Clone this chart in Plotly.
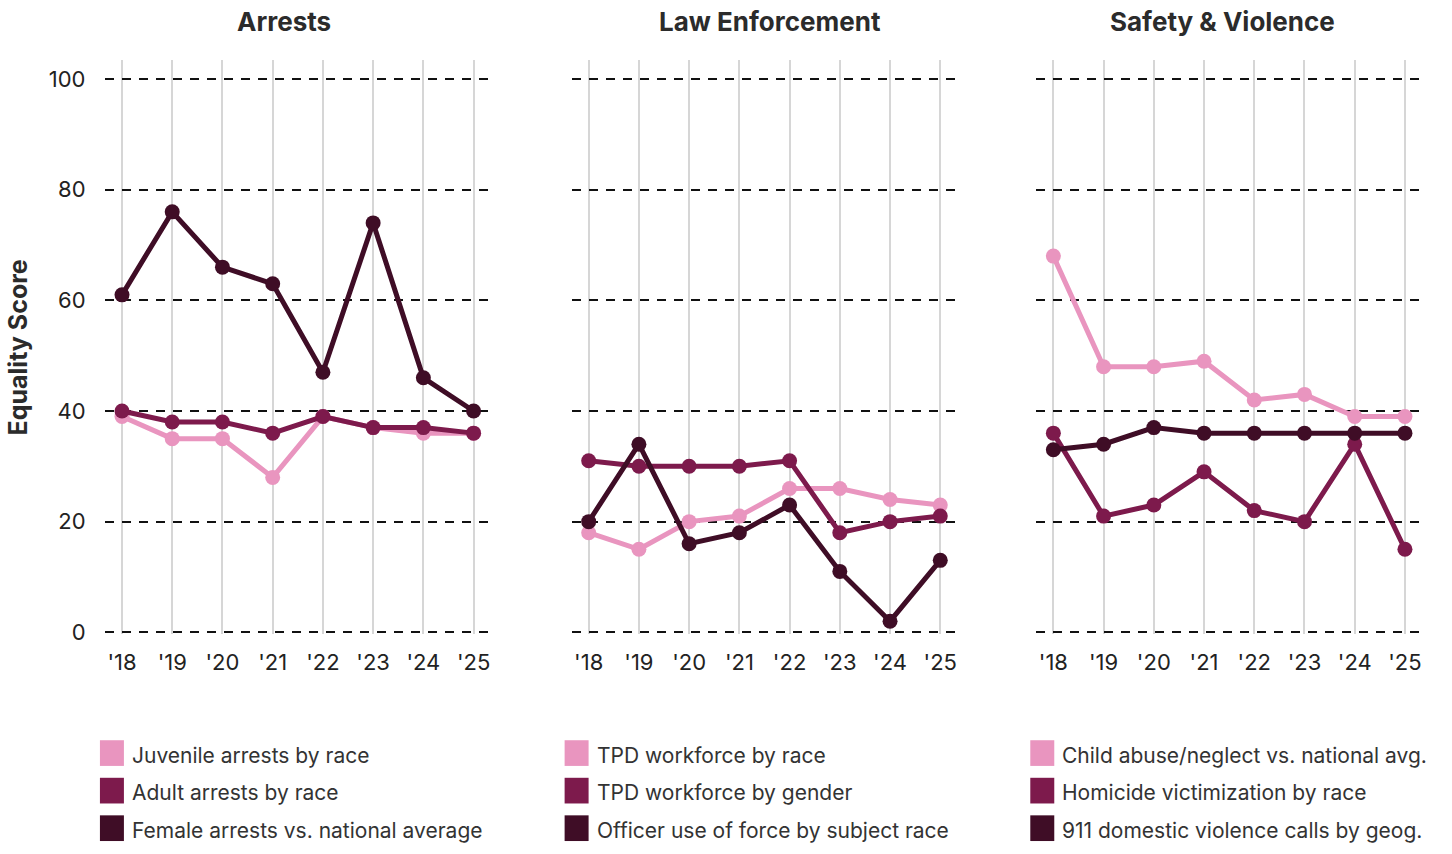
import plotly.graph_objects as go

# ---- data -------------------------------------------------------------
years = ["'18", "'19", "'20", "'21", "'22", "'23", "'24", "'25"]
panel_titles = ["Arrests", "Law Enforcement", "Safety & Violence"]

# Arrests
juvenile_arrests = [39, 35, 35, 28, 39, 37, 36, 36]
adult_arrests = [40, 38, 38, 36, 39, 37, 37, 36]
female_arrests = [61, 76, 66, 63, 47, 74, 46, 40]

# Law Enforcement
tpd_race = [18, 15, 20, 21, 26, 26, 24, 23]
tpd_gender = [31, 30, 30, 30, 31, 18, 20, 21]
use_of_force = [20, 34, 16, 18, 23, 11, 2, 13]

# Safety & Violence
child_abuse = [68, 48, 48, 49, 42, 43, 39, 39]
homicide = [36, 21, 23, 29, 22, 20, 34, 15]
dv_calls = [33, 34, 37, 36, 36, 36, 36, 36]

series_names = [
    ["Juvenile arrests by race", "Adult arrests by race", "Female arrests vs. national average"],
    ["TPD workforce by race", "TPD workforce by gender", "Officer use of force by subject race"],
    ["Child abuse/neglect vs. national avg.", "Homicide victimization by race", "911 domestic violence calls by geog."],
]
series_values = [
    [juvenile_arrests, adult_arrests, female_arrests],
    [tpd_race, tpd_gender, use_of_force],
    [child_abuse, homicide, dv_calls],
]
y_ticks = [0, 20, 40, 60, 80, 100]

# ---- styling ----------------------------------------------------------
colors = ["#E995BF", "#7D1A4C", "#3F0D26"]
FONT = "Inter, Lato, sans-serif"
W, H = 1452, 854
x_domains = [(105 / W, 490 / W), (572 / W, 957 / W), (1037 / W, 1422 / W)]
y_domain = (1 - 642 / H, 1 - 61 / H)
title_x_px = [284, 771, 1223]
legend_x_px = [100, 565, 1031]
legend_y_px = [762, 800, 838]

fig = go.Figure()

for p in range(3):
    xa = "x" if p == 0 else f"x{p + 1}"
    ya = "y" if p == 0 else f"y{p + 1}"
    for s in range(3):
        fig.add_trace(go.Scatter(
            x=years, y=series_values[p][s], name=series_names[p][s],
            mode="lines+markers", xaxis=xa, yaxis=ya,
            line=dict(color=colors[s], width=5),
            marker=dict(color=colors[s], size=15),
            showlegend=False,
            hovertemplate="%{x}: %{y}<extra>" + series_names[p][s] + "</extra>",
        ))

layout = dict(
    width=W, height=H,
    margin=dict(l=0, r=0, t=0, b=0),
    paper_bgcolor="white", plot_bgcolor="white",
    font=dict(family=FONT, color="#222222", size=20),
    showlegend=False,
)

for p in range(3):
    xkey = "xaxis" if p == 0 else f"xaxis{p + 1}"
    ykey = "yaxis" if p == 0 else f"yaxis{p + 1}"
    layout[xkey] = dict(
        domain=list(x_domains[p]), anchor="y" if p == 0 else f"y{p + 1}",
        type="category", categoryorder="array", categoryarray=years,
        range=[-0.34, 7.32],
        showgrid=True, gridcolor="#d6d6d6", gridwidth=1.5,
        zeroline=False, showline=False,
        ticks="outside", ticklen=8, tickcolor="rgba(0,0,0,0)",
        tickfont=dict(family=FONT, size=22, color="#222222"),
    )
    layout[ykey] = dict(
        domain=list(y_domain), anchor="x" if p == 0 else f"x{p + 1}",
        range=[-0.4, 103.4], tickvals=y_ticks,
        showticklabels=(p == 0),
        showgrid=True, gridcolor="#111111", gridwidth=1.5, griddash="9px,8px",
        zeroline=False, showline=False,
        ticks="outside" if p == 0 else "", ticklen=14, tickcolor="rgba(0,0,0,0)",
        tickfont=dict(family=FONT, size=22, color="#222222"),
    )
    if p > 0:
        layout[ykey]["matches"] = "y"

layout["yaxis"]["title"] = dict(
    text="Equality Score", standoff=14,
    font=dict(family=FONT, size=25, color="#2b2b2b", weight="bold"),
)

annotations = []
shapes = []
for p in range(3):
    annotations.append(dict(
        text=f"<b>{panel_titles[p]}</b>", xref="paper", yref="paper",
        x=title_x_px[p] / W, y=1 - 22 / H, xanchor="center", yanchor="middle",
        showarrow=False, font=dict(family=FONT, size=26, color="#2b2b2b"),
    ))
    for s in range(3):
        x0 = legend_x_px[p]
        yc = legend_y_px[s]
        shapes.append(dict(
            type="rect", xref="paper", yref="paper",
            x0=x0 / W, x1=(x0 + 24) / W,
            y0=1 - (yc + 13) / H, y1=1 - (yc - 13) / H,
            fillcolor=colors[s], line=dict(width=0),
        ))
        annotations.append(dict(
            text=series_names[p][s], xref="paper", yref="paper",
            x=(x0 + 30) / W, y=1 - (yc + 2) / H, xanchor="left", yanchor="middle",
            showarrow=False, font=dict(family=FONT, size=21, color="#333333"),
        ))

layout["annotations"] = annotations
layout["shapes"] = shapes
fig.update_layout(**layout)

fig.write_html("out.html")
